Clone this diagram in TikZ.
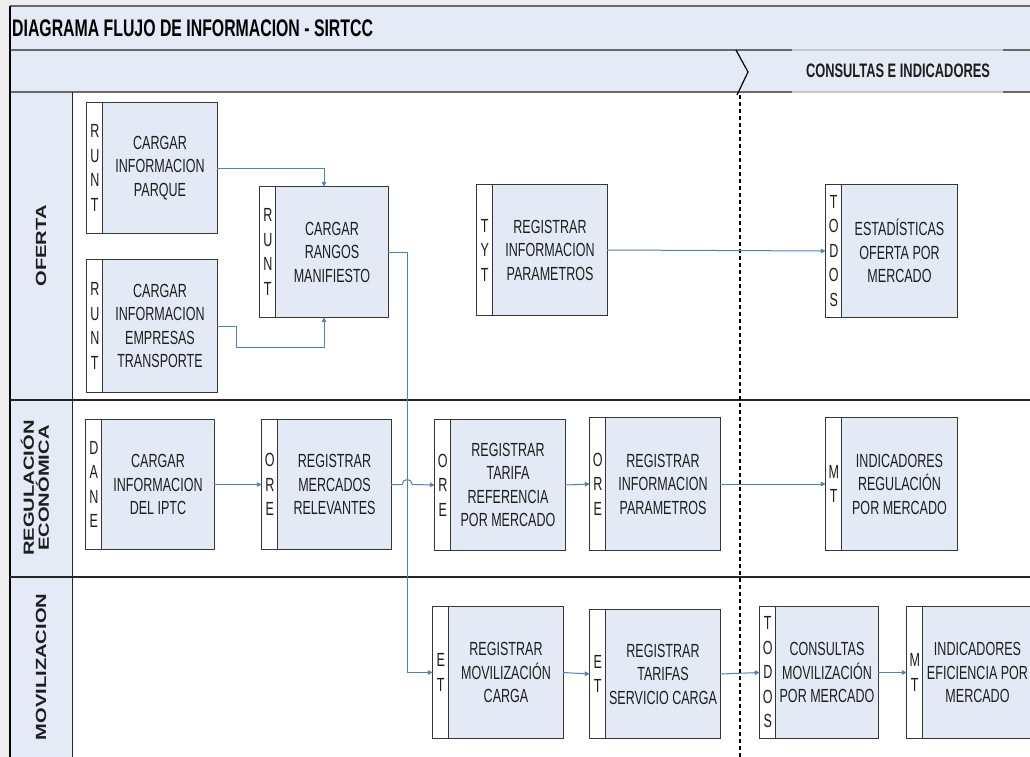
\documentclass[tikz,border=0pt]{standalone}
\usepackage{fontspec}
\setmainfont{Liberation Sans}
\newfontfamily\narrowfont[FakeStretch=0.66]{Liberation Sans}
\newfontfamily\widefont[FakeStretch=1.37]{Liberation Sans}
\usetikzlibrary{arrows.meta}

\definecolor{paneblue}{RGB}{228,235,246}
\definecolor{boxblue}{RGB}{228,234,245}
\definecolor{flowblue}{RGB}{79,129,189}
\definecolor{rulegrey}{RGB}{105,105,105}
\definecolor{softrule}{RGB}{200,200,200}
\definecolor{edgegrey}{RGB}{55,55,55}
\definecolor{ink}{RGB}{30,30,30}
\definecolor{pagegrey}{RGB}{238,238,238}

\tikzset{
  flow/.style={draw=flowblue, line width=1pt, -{Triangle[length=5pt,width=4.5pt]}},
  boxtext/.style={font=\narrowfont\fontsize{19}{23.5}\selectfont, align=center, text=ink, inner sep=0pt},
  striptext/.style={font=\narrowfont\fontsize{19}{24.5}\selectfont, align=center, text=ink, inner sep=0pt},
  lanelabel/.style={font=\widefont\bfseries\fontsize{14.7}{15}\selectfont, align=center, rotate=90, inner sep=0pt, text=ink},
  bandrule/.style={draw=rulegrey, line width=2pt},
  lanerule/.style={draw=black!85, line width=1.5pt},
}

% process box: name, x1, y1, x2, y2, stacked actor letters, caption
\newcommand\procbox[7]{%
  \node[fill=boxblue, inner sep=0pt, minimum width={#4-#2}, minimum height={#5-#3}] (#1) at ({(#2+#4)/2},{(#3+#5)/2}) {};
  \fill[white] (#1.north west) rectangle ([xshift=16pt]#1.south west);
  \draw[edgegrey, line width=1.3pt] (#1.north west) rectangle (#1.south east);
  \draw[edgegrey, line width=1pt] ([xshift=16pt]#1.north west) -- ([xshift=16pt]#1.south west);
  \node[striptext] (#1-actor) at ([xshift=8pt]#1.west) {#6};
  \node[boxtext] (#1-text) at ([xshift=8pt]#1.center) {#7};
}

\begin{document}
\begin{tikzpicture}[x=1pt, y=-1pt]
\useasboundingbox (0,0) rectangle (1030,757);
\clip (0,0) rectangle (1030,757);

% page and frame
\fill[pagegrey] (0,0) rectangle (1030,757);
\fill[white] (10,6) rectangle (1030,757);
\fill[paneblue] (10,6) rectangle (1030,92);
\fill[paneblue] (10,92) rectangle (72,757);

% header rules
\draw[bandrule] (10,6) -- (1030,6);
\draw[bandrule] (10,50) -- (1030,50);
\draw[bandrule] (10,92) -- (1030,92);
\draw[draw=softrule, line width=2pt] (792,50) -- (1003,50);
\draw[draw=softrule, line width=2pt] (792,92) -- (1003,92);

% lane rules
\draw[black, line width=1.5pt] (10,6) -- (10,757);
\draw[black!85, line width=1pt] (72,92) -- (72,757);
\draw[lanerule] (10,400) -- (1030,400);
\draw[lanerule] (10,577) -- (1030,577);

% phase boundary
\draw[black, line width=1.2pt] (736,50) -- (748,72) -- (737,95);
\draw[black, line width=1.5pt, dash pattern=on 4pt off 3pt] (740,95) -- (740,757);

% titles
\node[anchor=base west, inner sep=0pt, text=black, font=\narrowfont\bfseries\fontsize{24}{28}\selectfont] (title) at (12,37) {DIAGRAMA FLUJO DE INFORMACION - SIRTCC};
\node[inner sep=0pt, text=ink, font=\narrowfont\bfseries\fontsize{19.5}{22}\selectfont] (phase) at (898,71) {CONSULTAS E INDICADORES};

\node[lanelabel] (laneA) at (41,246) {OFERTA};
\node[lanelabel] (laneB) at (35,488) {REGULACIÓN\\ECONÓMICA};
\node[lanelabel] (laneC) at (41,667) {MOVILIZACION};

% OFERTA
\procbox{parque}{87}{103}{217}{233}{R\\U\\N\\T}{CARGAR\\INFORMACION\\PARQUE}
\procbox{empresas}{87}{260}{217}{392}{R\\U\\N\\T}{CARGAR\\INFORMACION\\EMPRESAS\\TRANSPORTE}
\procbox{rangos}{260}{187}{388}{317}{R\\U\\N\\T}{CARGAR\\RANGOS\\MANIFIESTO}
\procbox{paramA}{477}{185}{607}{315}{T\\Y\\T}{REGISTRAR\\INFORMACION\\PARAMETROS}
\procbox{estad}{826}{185}{957}{317}{T\\O\\D\\O\\S}{ESTADÍSTICAS\\OFERTA POR\\MERCADO}

% REGULACION ECONOMICA
\procbox{iptc}{86}{420}{214}{549}{D\\A\\N\\E}{CARGAR\\INFORMACION\\DEL IPTC}
\procbox{mercados}{262}{420}{391}{549}{O\\R\\E}{REGISTRAR\\MERCADOS\\RELEVANTES}
\procbox{tarifa}{435}{420}{565}{550}{O\\R\\E}{REGISTRAR\\TARIFA\\REFERENCIA\\POR MERCADO}
\procbox{paramB}{590}{418}{720}{550}{O\\R\\E}{REGISTRAR\\INFORMACION\\PARAMETROS}
\procbox{indreg}{826}{418}{957}{550}{M\\T}{INDICADORES\\REGULACIÓN\\POR MERCADO}

% MOVILIZACION
\procbox{movil}{433}{607}{563}{738}{E\\T}{REGISTRAR\\MOVILIZACIÓN\\CARGA}
\procbox{servicio}{590}{610}{720}{738}{E\\T}{REGISTRAR\\TARIFAS\\SERVICIO CARGA}
\procbox{consultas}{760}{607}{878}{738}{T\\O\\D\\O\\S}{CONSULTAS\\MOVILIZACIÓN\\POR MERCADO}
\procbox{eficiencia}{907}{607}{1032}{738}{M\\T}{INDICADORES\\EFICIENCIA POR\\MERCADO}

% information flows
\draw[flow] (parque.east) -| (rangos.north);
\draw[flow] (empresas.east) -- ++(19,0) |- ([yshift=-30pt]rangos.south) -- (rangos.south);
\draw[flow] (rangos.east) -- ++(19,0) |- (movil.west);
\draw[flow] (paramA.east) -- (estad.west);
\draw[flow] (iptc.east) -- (mercados.west);
\draw[flow] (mercados.east) -- ++(11,0) arc[start angle=180, end angle=0, radius=5pt] -- (tarifa.west);
\draw[flow] (tarifa.east) -- (paramB.west);
\draw[flow] (paramB.east) -- (indreg.west);
\draw[flow] (movil.east) -- (servicio.west);
\draw[flow] (servicio.east) -- (consultas.west);
\draw[flow] (consultas.east) -- (eficiencia.west);
\end{tikzpicture}
\end{document}
